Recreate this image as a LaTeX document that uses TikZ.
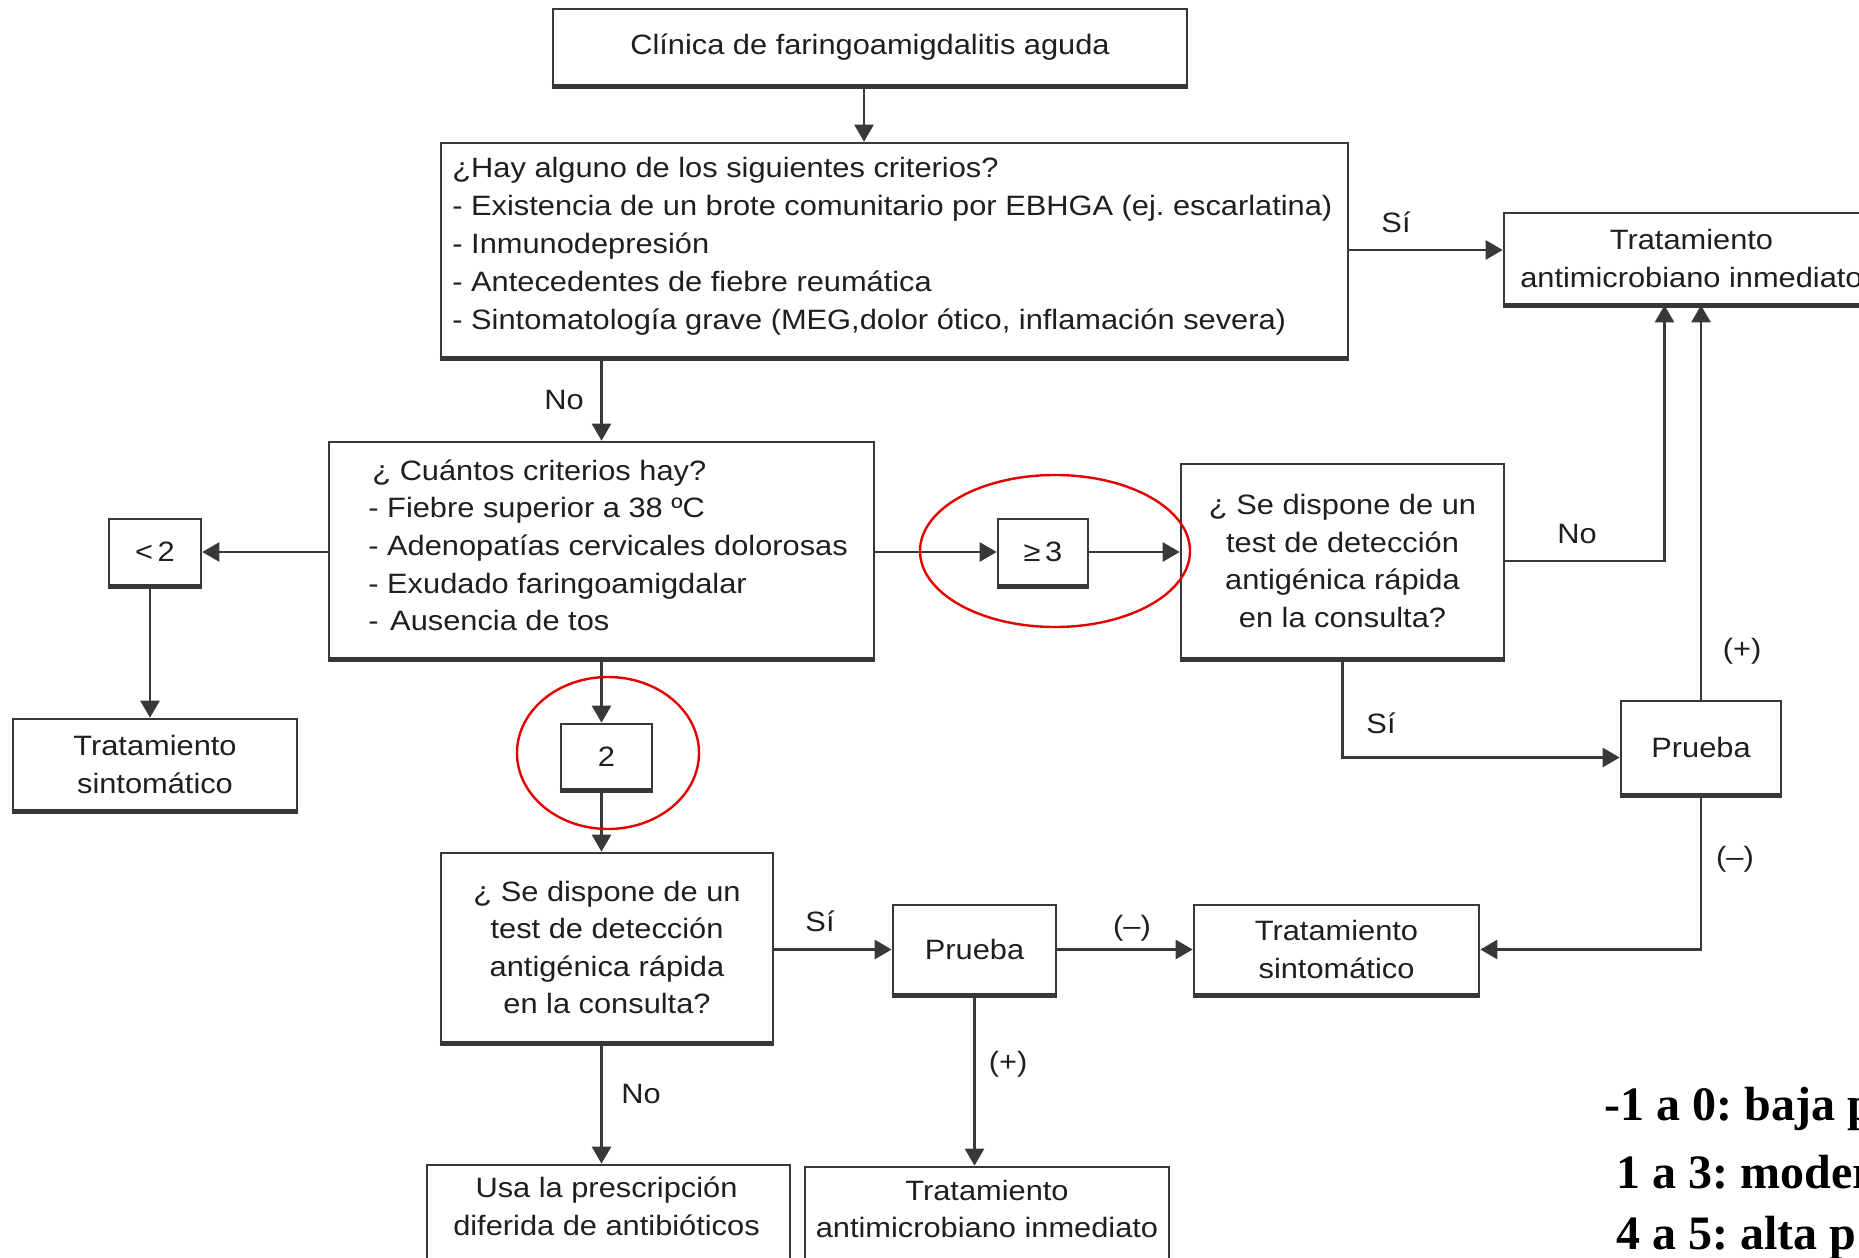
\documentclass[tikz,border=0pt]{standalone}
\usepackage{fontspec}
\setmainfont{Liberation Sans}[FakeStretch=1.1]
\newfontfamily\notefont{Liberation Serif}
\usetikzlibrary{arrows.meta}
\definecolor{lncol}{gray}{0.22}
\definecolor{txcol}{gray}{0.12}
\newcommand\fs{\fontsize{14pt}{18.75pt}\selectfont}
\frenchspacing
\tikzset{
  box/.style={draw=lncol, line width=1.3pt, fill=white, inner sep=0pt, align=center, font=\fs, text=txcol},
  txt/.style={inner sep=0pt, font=\fs, text=txcol},
  conn/.style={draw=lncol, line width=1.3pt, -{Triangle[length=8.5pt,width=9.5pt]}},
  shadowedge/.style={draw=lncol, line width=2.2pt},
  redring/.style={draw=red!90!black, line width=1.2pt},
  note/.style={inner sep=0pt, text=black, font=\notefont\bfseries\fontsize{24pt}{28pt}\selectfont},
}
\begin{document}
\begin{tikzpicture}[x=0.5pt,y=-0.5pt]
\useasboundingbox (0,0) rectangle (1859,1258);

% boxes
\node[box, minimum width=317pt, minimum height=38pt] (b1) at (870,47) {Clínica de faringoamigdalitis aguda};
\node[box, minimum width=453.5pt, minimum height=107pt] (b2) at (894.5,250) {};
\node[box, minimum width=187.5pt, minimum height=45.5pt] (tai1) at (1691.5,258.5) {Tratamiento\\antimicrobiano inmediato};
\node[box, minimum width=272.5pt, minimum height=108pt] (q1) at (601.5,550) {};
\node[box, minimum width=46pt, minimum height=33pt] (lt2) at (155,552) {<\,2};
\node[box, minimum width=142pt, minimum height=45.5pt] (ts1) at (155,764.5) {Tratamiento\\sintomático};
\node[box, minimum width=45pt, minimum height=33pt] (ge3) at (1043,552) {≥\,3};
\node[box, minimum width=161.5pt, minimum height=97pt] (q2) at (1342.5,561) {¿ Se dispone de un\\test de detección\\antigénica rápida\\en la consulta?};
\node[box, minimum width=80pt, minimum height=46.5pt] (pr1) at (1701,747.5) {Prueba};
\node[box, minimum width=45.5pt, minimum height=32.5pt] (two) at (606.5,756.5) {2};
\node[box, minimum width=166pt, minimum height=94.5pt] (q3) at (607,947.5) {¿ Se dispone de un\\test de detección\\antigénica rápida\\en la consulta?};
\node[box, minimum width=81.5pt, minimum height=44.5pt] (pr2) at (974.5,949.5) {Prueba};
\node[box, minimum width=142.5pt, minimum height=44.5pt] (ts2) at (1336.5,949.5) {Tratamiento\\sintomático};
\node[box, minimum width=181.5pt, minimum height=62.5pt] (usa) at (608.5,1227.5) {};
\node[box, minimum width=182pt, minimum height=61.5pt] (tai2) at (987,1228.5) {};

% thicker bottom edges
\foreach \n in {b1,b2,tai1,q1,lt2,ts1,ge3,q2,pr1,two,q3,pr2,ts2}
  \draw[shadowedge] ([yshift=-0.45pt]\n.south west) -- ([yshift=-0.45pt]\n.south east);

% texts of the list boxes
\foreach \t [count=\i from 0] in {{¿Hay alguno de los siguientes criterios?},
  {- Existencia de un brote comunitario por EBHGA (ej. escarlatina)},
  {- Inmunodepresión},
  {- Antecedentes de fiebre reumática},
  {- Sintomatología grave (MEG,dolor ótico, inflamación severa)}}
  \node[txt, anchor=base west] (b2t\i) at (452,{177+38*\i}) {\t};

\node[txt, anchor=base west] (q1t0) at (372,480) {¿ Cuántos criterios hay?};
\node[txt, anchor=base west] (q1t1) at (368,517) {- Fiebre superior a 38 ºC};
\node[txt, anchor=base west] (q1t2) at (368,555) {- Adenopatías cervicales dolorosas};
\node[txt, anchor=base west] (q1t3) at (368,593) {- Exudado faringoamigdalar};
\node[txt, anchor=base west] (q1t4) at (368,630) {-\hspace{1.5pt} Ausencia de tos};

\node[txt, anchor=base] (usat1) at (606.5,1197) {Usa la prescripción};
\node[txt, anchor=base] (usat2) at (606.5,1235) {diferida de antibióticos};
\node[txt, anchor=base] (tai2t1) at (987,1200) {Tratamiento};
\node[txt, anchor=base] (tai2t2) at (987,1237) {antimicrobiano inmediato};

% connectors
\draw[conn] ([xshift=-3pt]b1.south) -- ([xshift=-3pt]b1.south |- b2.north);
\draw[conn] (b2.east) -- (b2.east -| tai1.west);
\draw[conn] (b2.south -| q1.north) -- (q1.north);
\draw[conn] (q1.west |- lt2.east) -- (lt2.east);
\draw[conn] ([xshift=-2.5pt]lt2.south) -- ([xshift=-2.5pt]lt2.south |- ts1.north);
\draw[conn] (q1.east |- ge3.west) -- (ge3.west);
\draw[conn] (ge3.east) -- (ge3.east -| q2.west);
\draw[conn] (q2.east) -| ([xshift=-13.5pt]tai1.south);
\draw[conn] (pr1.north) -- (pr1.north |- tai1.south);
\draw[conn] (q2.south) |- ([yshift=-5pt]pr1.west);
\draw[conn] (pr1.south) |- (ts2.east);
\draw[conn] (q1.south) -- (q1.south |- two.north);
\draw[conn] (two.south -| q1.south) -- (q3.north -| q1.south);
\draw[conn] (q3.east |- pr2.west) -- (pr2.west);
\draw[conn] (pr2.east) -- (ts2.west);
\draw[conn] (q3.south -| q1.south) -- (usa.north -| q1.south);
\draw[conn] (pr2.south) -- (pr2.south |- tai2.north);

% connector labels
\node[txt] (l1) at (1396,222) {Sí};
\node[txt] (l2) at (564,400) {No};
\node[txt] (l3) at (1577,534) {No};
\node[txt] (l4) at (1742,651) {(+)};
\node[txt] (l5) at (1381,723) {Sí};
\node[txt] (l6) at (1735,859) {(–)};
\node[txt] (l7) at (820,921) {Sí};
\node[txt] (l8) at (1132,928) {(–)};
\node[txt] (l9) at (641,1094) {No};
\node[txt] (l10) at (1008,1064) {(+)};

% red rings
\draw[redring] (1055,551) ellipse [x radius=135, y radius=76];
\draw[redring] (608,753) ellipse [x radius=91, y radius=76];

% note
\node[note, anchor=base west] (n1) at (1604,1120) {-1 a 0: baja p};
\node[note, anchor=base west] (n2) at (1616,1188) {1 a 3: moder};
\node[note, anchor=base west] (n3) at (1616,1249) {4 a 5: alta p};
\end{tikzpicture}
\end{document}
